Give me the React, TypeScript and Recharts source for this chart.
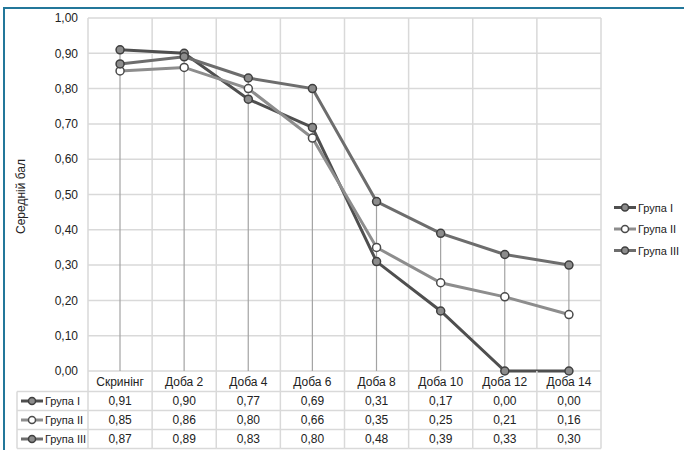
import { ComposedChart, Line, Bar, XAxis, YAxis, CartesianGrid } from 'recharts';

const categories = ['Скринінг', 'Доба 2', 'Доба 4', 'Доба 6', 'Доба 8', 'Доба 10', 'Доба 12', 'Доба 14'];
const group1 = [0.91, 0.9, 0.77, 0.69, 0.31, 0.17, 0.0, 0.0];
const group2 = [0.85, 0.86, 0.8, 0.66, 0.35, 0.25, 0.21, 0.16];
const group3 = [0.87, 0.89, 0.83, 0.8, 0.48, 0.39, 0.33, 0.3];
const yTicks = [0, 0.1, 0.2, 0.3, 0.4, 0.5, 0.6, 0.7, 0.8, 0.9, 1.0];

const seriesNames = ['Група I', 'Група II', 'Група III'];
const seriesValues = [group1, group2, group3];

// line / marker styling per group
const styles = [
  { line: '#4f4f4f', dotFill: '#8c8c8c', dotStroke: '#3f3f3f' },
  { line: '#8d8d8d', dotFill: '#ffffff', dotStroke: '#4a4a4a' },
  { line: '#6d6d6d', dotFill: '#8c8c8c', dotStroke: '#3f3f3f' },
];

const data = categories.map((name, i) => ({
  name,
  g1: group1[i],
  g2: group2[i],
  g3: group3[i],
  top: Math.max(group1[i], group2[i], group3[i]),
}));

const W = 684;
const H = 450;
const M = { top: 18, right: 83, bottom: 0, left: 0 };
const Y_AXIS_W = 88;
const PLOT_W = W - M.left - M.right - Y_AXIS_W;
const COL_W = PLOT_W / categories.length;
const ROW_H = 19;
const HEADER_H = 20.5;
const LABEL_X = 17;

const FONT = '"Liberation Sans", Arial, sans-serif';
const GRID = '#d9d9d9';

const fmt = (v: number) => v.toFixed(2).replace('.', ',');

const LegendIcon = ({ x, y, idx }: { x: number; y: number; idx: number }) => (
  <g>
    <line x1={x} y1={y} x2={x + 22} y2={y} stroke={styles[idx].line} strokeWidth={3} />
    <circle cx={x + 11} cy={y} r={3.5} fill={styles[idx].dotFill} stroke={styles[idx].dotStroke} strokeWidth={1.5} />
  </g>
);

// x-axis tick doubles as a column of the data table
const TableTick = (props: any) => {
  const { x, y, payload, index } = props;
  const left = x - COL_W / 2;
  const right = x + COL_W / 2;
  const rowsTop = y + HEADER_H;
  const bottom = rowsTop + ROW_H * 3;
  return (
    <g fontFamily={FONT} fontSize={12} fill="#222">
      <line x1={left} y1={y} x2={left} y2={bottom} stroke={GRID} strokeWidth={1.5} />
      {index === categories.length - 1 && (
        <line x1={right} y1={y} x2={right} y2={bottom} stroke={GRID} strokeWidth={1.5} />
      )}
      <text x={x} y={y + HEADER_H / 2 + 1} textAnchor="middle" dominantBaseline="central">
        {payload.value}
      </text>
      {[0, 1, 2, 3].map((r) => (
        <line key={r} x1={left} y1={rowsTop + r * ROW_H} x2={right} y2={rowsTop + r * ROW_H} stroke={GRID} strokeWidth={1.5} />
      ))}
      {seriesValues.map((vals, r) => (
        <text key={r} x={x} y={rowsTop + r * ROW_H + ROW_H / 2} textAnchor="middle" dominantBaseline="central">
          {fmt(vals[index])}
        </text>
      ))}
      {index === 0 && (
        <g>
          <line x1={LABEL_X} y1={rowsTop} x2={LABEL_X} y2={bottom} stroke={GRID} strokeWidth={1.5} />
          {[0, 1, 2, 3].map((r) => (
            <line key={r} x1={LABEL_X} y1={rowsTop + r * ROW_H} x2={left} y2={rowsTop + r * ROW_H} stroke={GRID} strokeWidth={1.5} />
          ))}
          {seriesNames.map((n, r) => (
            <g key={n}>
              <LegendIcon x={LABEL_X + 4} y={rowsTop + r * ROW_H + ROW_H / 2} idx={r} />
              <text x={LABEL_X + 28} y={rowsTop + r * ROW_H + ROW_H / 2} dominantBaseline="central" fontSize={11}>
                {n}
              </text>
            </g>
          ))}
        </g>
      )}
    </g>
  );
};

// vertical drop line from the highest point of each category
const DropLine = (props: any) => {
  const { x, y, width, height } = props;
  if (height == null) return null;
  const cx = x + width / 2;
  return <line x1={cx} y1={y} x2={cx} y2={y + height} stroke="#a3a3a3" strokeWidth={1.2} />;
};

const YTitle = (props: any) => {
  const { viewBox } = props;
  const cx = 21;
  const cy = viewBox.y + viewBox.height / 2 + 2;
  return (
    <text x={cx} y={cy} transform={`rotate(-90 ${cx} ${cy})`} textAnchor="middle" dominantBaseline="central"
      fontFamily={FONT} fontSize={12} fill="#222">
      Середній бал
    </text>
  );
};

const dotFor = (idx: number) => ({
  r: 4,
  fill: styles[idx].dotFill,
  stroke: styles[idx].dotStroke,
  strokeWidth: 1.5,
});

export default function App() {
  return (
    <div style={{ position: 'absolute', left: 0, top: 0, width: W, height: H, overflow: 'hidden', background: '#fff' }}>
      <div style={{ position: 'absolute', left: 3, top: 7, width: W + 10, height: H + 10, borderTop: '2px solid #23779a', borderLeft: '2px solid #23779a' }} />
      <ComposedChart width={W} height={H} data={data} margin={M} style={{ position: 'absolute', left: 0, top: 0 }}>
        <CartesianGrid
          stroke={GRID}
          strokeWidth={1.5}
          verticalCoordinatesGenerator={({ offset }: any) =>
            categories.map((_, i) => offset.left + i * (offset.width / categories.length)).concat(offset.left + offset.width)
          }
        />
        <XAxis dataKey="name" axisLine={false} tickLine={false} tickSize={0} tickMargin={0} height={79}
          interval={0} tick={<TableTick />} />
        <YAxis domain={[0, 1]} ticks={yTicks} width={Y_AXIS_W} axisLine={false} tickLine={false} tickSize={0}
          tickMargin={10} tickFormatter={fmt} interval={0}
          tick={{ fontSize: 12, fill: '#222', fontFamily: FONT }} label={<YTitle />} />
        <Bar dataKey="top" barSize={2} shape={<DropLine />} isAnimationActive={false} />
        {['g1', 'g2', 'g3'].map((k, i) => (
          <Line key={k} type="linear" dataKey={k} name={seriesNames[i]} stroke={styles[i].line} strokeWidth={3}
            dot={dotFor(i)} activeDot={false} isAnimationActive={false} />
        ))}
      </ComposedChart>
      <svg width={72} height={70} style={{ position: 'absolute', left: 611, top: 196 }}>
        {seriesNames.map((n, i) => (
          <g key={n}>
            <LegendIcon x={3} y={11.5 + i * 21.5} idx={i} />
            <text x={27} y={11.5 + i * 21.5} dominantBaseline="central" fontFamily={FONT} fontSize={11} fill="#222">
              {n}
            </text>
          </g>
        ))}
      </svg>
    </div>
  );
}
